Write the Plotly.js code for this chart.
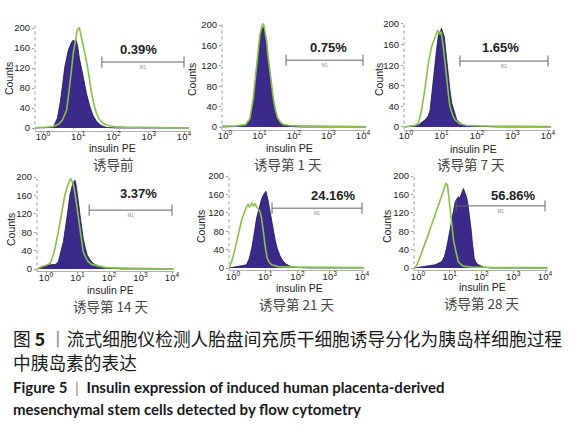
<!DOCTYPE html>
<html><head><meta charset="utf-8">
<script src="https://cdn.plot.ly/plotly-3.0.1.min.js"></script>
<style>html,body{margin:0;padding:0;background:#fff}#chart{width:585px;height:434px}</style>
</head><body><div id="chart"></div>
<script>
// ---- tick labels / categories ----
const tickExponents = [0, 1, 2, 3, 4];
const tickLabels = ['10<sup>0</sup>', '10<sup>1</sup>', '10<sup>2</sup>', '10<sup>3</sup>', '10<sup>4</sup>'];
const countTicks = [0, 40, 80, 120, 160, 200];
const panelLabels = ['诱导前', '诱导第 1 天', '诱导第 7 天', '诱导第 14 天', '诱导第 21 天', '诱导第 28 天'];
const positivePercent = ['0.39%', '0.75%', '1.65%', '3.37%', '24.16%', '56.86%'];
const gateStartLog = [1.67, 1.77, 1.52, 1.37, 1.21, 1.20];
const gateCount = [132, 131, 128, 128, 130, 135];

// ---- histograms: log10(insulin PE) and counts ----
// before induction
const d0InducedLog = [-0.22, 0.2, 0.3, 0.41, 0.5, 0.56, 0.62, 0.72, 0.8, 0.86, 0.9, 0.93, 0.98, 1.03, 1.08, 1.14, 1.23, 1.33, 1.42, 1.52, 1.65, 1.81, 2.1, 4.14];
const d0InducedCounts = [0, 1, 3, 20, 56, 89, 123, 156, 170, 176, 172, 178, 165, 140, 125, 103, 70, 43, 25, 13, 5, 1, 0, 0];
const d0ControlLog = [-0.22, 0.0, 0.29, 0.45, 0.55, 0.67, 0.75, 0.81, 0.86, 0.91, 0.97, 1.03, 1.08, 1.14, 1.2, 1.26, 1.32, 1.38, 1.45, 1.52, 1.6, 1.71, 1.85, 1.99, 2.3, 3.0, 4.0, 4.1];
const d0ControlCounts = [1, 1, 3, 8, 16, 36, 80, 123, 150, 169, 196, 201, 185, 169, 145, 123, 95, 69, 45, 29, 17, 9, 5, 3, 2, 1, 1, 0];
// day 1
const d1InducedLog = [-0.1, 0.3, 0.6, 0.72, 0.82, 0.92, 0.97, 1.01, 1.06, 1.11, 1.15, 1.21, 1.25, 1.3, 1.35, 1.4, 1.46, 1.52, 1.6, 1.69, 1.9, 2.2, 4.1];
const d1InducedCounts = [0, 1, 4, 14, 53, 118, 150, 177, 190, 196, 188, 164, 135, 105, 78, 53, 32, 17, 9, 4, 1, 0, 0];
const d1ControlLog = [-0.1, 0.3, 0.6, 0.72, 0.82, 0.92, 0.97, 1.01, 1.06, 1.11, 1.15, 1.21, 1.25, 1.3, 1.35, 1.4, 1.46, 1.52, 1.6, 1.69, 1.9, 2.5, 4.0, 4.1];
const d1ControlCounts = [2, 2, 5, 16, 56, 122, 155, 180, 195, 203, 192, 166, 138, 108, 80, 56, 34, 19, 10, 5, 3, 2, 1, 0];
// day 7
const d7InducedLog = [-0.05, 0.2, 0.35, 0.54, 0.63, 0.68, 0.77, 0.86, 0.92, 0.97, 1.0, 1.04, 1.08, 1.14, 1.19, 1.24, 1.29, 1.36, 1.43, 1.52, 1.61, 1.8, 2.2, 2.6, 4.1];
const d7InducedCounts = [0, 2, 4, 14, 22, 33, 98, 150, 182, 186, 192, 185, 175, 135, 98, 70, 46, 28, 14, 8, 4, 2, 1, 0, 0];
const d7ControlLog = [-0.05, 0.1, 0.25, 0.35, 0.44, 0.54, 0.63, 0.72, 0.82, 0.89, 0.95, 0.99, 1.05, 1.1, 1.15, 1.2, 1.24, 1.31, 1.38, 1.5, 1.7, 2.2, 4.0, 4.1];
const d7ControlCounts = [0, 2, 3, 7, 33, 78, 124, 156, 175, 188, 180, 185, 156, 120, 85, 60, 39, 24, 14, 7, 3, 2, 1, 0];
// day 14
const d14InducedLog = [-0.27, -0.19, 0.13, 0.3, 0.39, 0.47, 0.55, 0.66, 0.76, 0.85, 0.92, 0.95, 0.99, 1.04, 1.08, 1.13, 1.18, 1.25, 1.31, 1.4, 1.5, 1.71, 2.0, 2.4, 4.05];
const d14InducedCounts = [0, 3, 9, 10, 16, 35, 59, 110, 161, 186, 193, 185, 168, 140, 117, 90, 67, 45, 30, 20, 12, 5, 2, 0, 0];
const d14ControlLog = [-0.27, -0.15, 0.0, 0.13, 0.22, 0.29, 0.39, 0.5, 0.6, 0.71, 0.78, 0.83, 0.87, 0.92, 0.97, 1.03, 1.08, 1.13, 1.18, 1.26, 1.34, 1.45, 1.61, 1.9, 2.5, 4.0, 4.05];
const d14ControlCounts = [0, 5, 8, 12, 28, 45, 81, 125, 161, 186, 197, 190, 183, 165, 139, 108, 81, 58, 38, 25, 16, 10, 7, 3, 2, 1, 0];
// day 21
const d21InducedLog = [-0.12, 0.11, 0.3, 0.42, 0.5, 0.58, 0.65, 0.73, 0.81, 0.89, 0.95, 1.02, 1.08, 1.15, 1.2, 1.25, 1.31, 1.37, 1.46, 1.56, 1.66, 1.77, 2.0, 2.4, 4.05];
const d21InducedCounts = [0, 3, 4, 7, 20, 43, 72, 108, 130, 151, 160, 167, 150, 122, 100, 79, 60, 43, 26, 14, 8, 4, 1, 0, 0];
const d21ControlLog = [-0.12, -0.04, 0.04, 0.11, 0.17, 0.22, 0.27, 0.32, 0.37, 0.42, 0.47, 0.52, 0.58, 0.64, 0.69, 0.73, 0.79, 0.84, 0.88, 0.92, 0.96, 0.99, 1.03, 1.06, 1.13, 1.2, 1.4, 2.0, 4.0, 4.05];
const d21ControlCounts = [0, 14, 35, 57, 78, 93, 105, 115, 125, 133, 138, 132, 141, 135, 140, 133, 128, 122, 110, 93, 70, 50, 33, 21, 12, 7, 3, 2, 1, 0];
// day 28
const d28InducedLog = [-0.12, 0.22, 0.54, 0.75, 0.83, 0.9, 0.98, 1.06, 1.12, 1.17, 1.22, 1.27, 1.32, 1.38, 1.43, 1.47, 1.53, 1.58, 1.64, 1.68, 1.71, 1.74, 1.77, 1.83, 1.9, 2.06, 2.3, 4.08];
const d28InducedCounts = [0, 3, 7, 14, 25, 43, 70, 101, 125, 144, 150, 155, 152, 162, 173, 165, 155, 135, 108, 80, 57, 38, 21, 12, 7, 2, 0, 0];
const d28ControlLog = [-0.12, -0.05, 0.01, 0.09, 0.17, 0.25, 0.32, 0.4, 0.48, 0.56, 0.64, 0.71, 0.77, 0.83, 0.88, 0.93, 0.97, 1.01, 1.05, 1.08, 1.12, 1.17, 1.22, 1.27, 1.35, 1.43, 1.7, 2.5, 4.0, 4.08];
const d28ControlCounts = [0, 5, 14, 28, 43, 58, 72, 88, 104, 120, 137, 150, 159, 172, 184, 180, 155, 130, 100, 79, 60, 43, 27, 14, 8, 4, 2, 1, 1, 0];

const inducedLog = [d0InducedLog, d1InducedLog, d7InducedLog, d14InducedLog, d21InducedLog, d28InducedLog];
const inducedCounts = [d0InducedCounts, d1InducedCounts, d7InducedCounts, d14InducedCounts, d21InducedCounts, d28InducedCounts];
const controlLog = [d0ControlLog, d1ControlLog, d7ControlLog, d14ControlLog, d21ControlLog, d28ControlLog];
const controlCounts = [d0ControlCounts, d1ControlCounts, d7ControlCounts, d14ControlCounts, d21ControlCounts, d28ControlCounts];

// ---- panel geometry (pixels): pos of 10^0, 10^4, plot left/right, count 0 and 200 ----
const geo = [
  {x0: 43, x4: 184, l: 35, r: 189, y0: 128, y200: 28},
  {x0: 225, x4: 363, l: 222, r: 366, y0: 127, y200: 25},
  {x0: 406, x4: 548, l: 404, r: 551, y0: 127, y200: 24},
  {x0: 46, x4: 172, l: 37, r: 174, y0: 269, y200: 177},
  {x0: 233, x4: 362, l: 229, r: 364, y0: 268, y200: 176},
  {x0: 418, x4: 545, l: 414, r: 548, y0: 268, y200: 176}
];
const textPos = [
  {pct: [138, 49], pe: [112, 148], lab: [113, 164], cnt: [9, 79]},
  {pct: [328, 47], pe: [289, 148], lab: [288, 164], cnt: [192, 80]},
  {pct: [500, 48], pe: [473, 149], lab: [471, 164], cnt: [379, 80]},
  {pct: [138, 194], pe: [110, 290], lab: [111, 306], cnt: [11, 230]},
  {pct: [333, 195], pe: [299, 288], lab: [297, 304], cnt: [201, 227]},
  {pct: [513, 195], pe: [482, 287], lab: [482, 303], cnt: [387, 227]}
];

const W = 585, H = 434;
const px = v => v / W, py = v => 1 - v / H;
const YLO = -5, YHI = 205;
const purple = '#3b2a8a', green = '#86c34a';
const tickFont = {family: 'Liberation Sans, Arial, sans-serif', size: 9.5, color: '#222'};

const traces = [];
const layout = {
  width: W, height: H, margin: {l: 0, r: 0, t: 0, b: 0},
  paper_bgcolor: '#fff', plot_bgcolor: 'rgba(0,0,0,0)', showlegend: false,
  annotations: [], shapes: []
};

geo.forEach((g, i) => {
  const n = i + 1, sx = n === 1 ? '' : String(n);
  const xa = 'x' + sx, ya = 'y' + sx;
  const dec = (g.x4 - g.x0) / 4;
  const s = (g.y0 - g.y200) / 200;
  const top = g.y0 - YHI * s, bot = g.y0 - YLO * s;
  layout['xaxis' + sx] = {
    domain: [px(g.l), px(g.r)], range: [(g.l - g.x0) / dec, (g.r - g.x0) / dec],
    anchor: ya, tickmode: 'array', tickvals: tickExponents, ticktext: tickLabels,
    showgrid: false, zeroline: false, showline: true, linecolor: '#b0b0b0', linewidth: 1,
    ticks: 'outside', ticklen: 2, tickcolor: '#999', tickfont: tickFont, ticklabelstandoff: -5, fixedrange: true
  };
  layout['yaxis' + sx] = {
    domain: [1 - bot / H, 1 - top / H], range: [YLO, YHI], anchor: xa,
    tickmode: 'array', tickvals: countTicks, showgrid: false, zeroline: false, showline: false,
    ticks: 'outside', ticklen: 2, tickcolor: '#999', tickfont: tickFont, fixedrange: true
  };
  layout.shapes.push({type: 'line', xref: xa + ' domain', yref: ya + ' domain', x0: 0, x1: 0, y0: 0, y1: 1,
    line: {color: '#999', width: 1, dash: 'dot'}});

  traces.push({x: inducedLog[i], y: inducedCounts[i], xaxis: xa, yaxis: ya, type: 'scatter', mode: 'lines',
    fill: 'tozeroy', fillcolor: purple, line: {color: '#1d1550', width: 0.8}, hoverinfo: 'skip'});
  traces.push({x: controlLog[i], y: controlCounts[i], xaxis: xa, yaxis: ya, type: 'scatter', mode: 'lines',
    line: {color: green, width: 1.6}, hoverinfo: 'skip'});
  // gate bar M1
  traces.push({x: [gateStartLog[i], 4], y: [gateCount[i], gateCount[i]], xaxis: xa, yaxis: ya, type: 'scatter',
    mode: 'lines+markers', line: {color: '#666', width: 1},
    marker: {symbol: 'line-ns-open', size: 8, color: '#666', line: {width: 1, color: '#666'}}, hoverinfo: 'skip'});
  traces.push({x: [(gateStartLog[i] + 4) / 2], y: [gateCount[i] - 12], xaxis: xa, yaxis: ya, type: 'scatter',
    mode: 'text', text: ['M1'], textfont: {size: 4.5, color: '#888', family: 'Liberation Sans'}, hoverinfo: 'skip'});

  const t = textPos[i];
  layout.annotations.push({xref: 'paper', yref: 'paper', x: px(t.pct[0]), y: py(t.pct[1]), xanchor: 'center', yanchor: 'middle',
    text: '<b>' + positivePercent[i] + '</b>', showarrow: false, font: {family: 'Liberation Sans, Arial', size: 13, color: '#222'}});
  layout.annotations.push({xref: 'paper', yref: 'paper', x: px(t.pe[0]), y: py(t.pe[1]), xanchor: 'center', yanchor: 'middle',
    text: 'insulin PE', showarrow: false, font: {family: 'Liberation Sans, Arial', size: 10.5, color: '#222'}});
  layout.annotations.push({xref: 'paper', yref: 'paper', x: px(t.lab[0]), y: py(t.lab[1]), xanchor: 'center', yanchor: 'middle',
    text: panelLabels[i], showarrow: false, font: {family: 'Noto Sans CJK SC', size: 13.5, color: '#444'}});
  layout.annotations.push({xref: 'paper', yref: 'paper', x: px(t.cnt[0]), y: py(t.cnt[1]), xanchor: 'center', yanchor: 'middle',
    text: 'Counts', textangle: -90, showarrow: false, font: {family: 'Liberation Sans, Arial', size: 10.5, color: '#222'}});
});

// ---- figure caption ----
const captionZh = ['图 <b>5</b> <span style="color:#888">丨</span>流式细胞仪检测人胎盘间充质干细胞诱导分化为胰岛样细胞过程', '中胰岛素的表达'];
const captionEn = ['<b>Figure 5</b>  <span style="color:#888">|</span>  <b>Insulin expression of induced human placenta-derived</b>',
                   '<b>mesenchymal stem cells detected by flow cytometry</b>'];
const zhY = [338, 362], enY = [387, 409];
captionZh.forEach((s, k) => layout.annotations.push({xref: 'paper', yref: 'paper', x: px(11), y: py(zhY[k]), xanchor: 'left', yanchor: 'middle',
  text: s, showarrow: false, font: {family: 'Noto Sans CJK SC', size: 17.7, color: '#1a1a1a'}}));
captionEn.forEach((s, k) => layout.annotations.push({xref: 'paper', yref: 'paper', x: px(11), y: py(enY[k]), xanchor: 'left', yanchor: 'middle',
  text: s, showarrow: false, font: {family: 'Lato', size: 15, color: '#1a1a1a'}}));

Plotly.newPlot('chart', traces, layout, {staticPlot: true, displayModeBar: false});
</script>
</body></html>
